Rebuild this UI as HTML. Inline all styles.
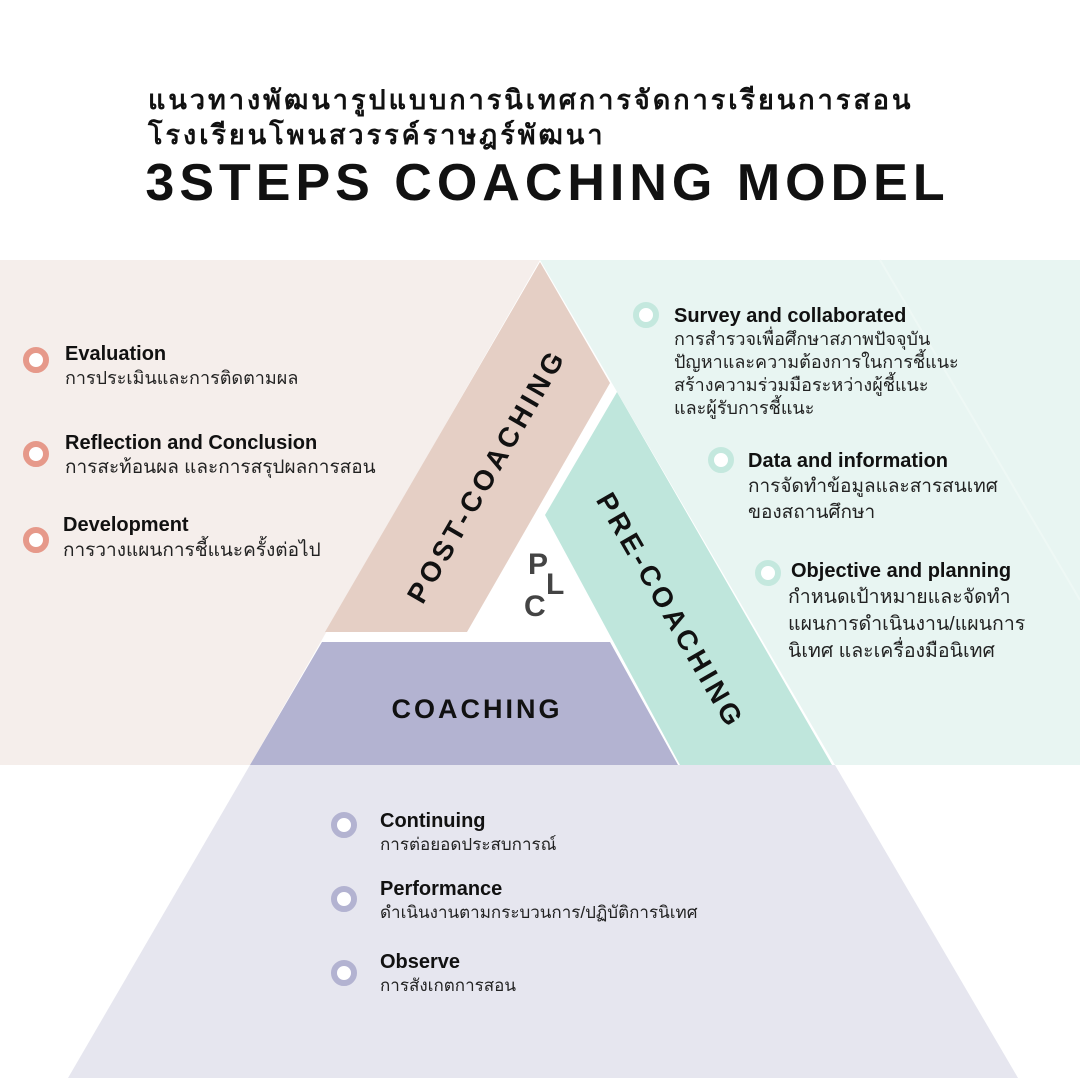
<!DOCTYPE html>
<html><head><meta charset="utf-8"><style>
body{margin:0;width:1080px;height:1080px;position:relative;background:#fff;overflow:hidden;font-family:"Liberation Sans",sans-serif;color:#111}
.a{position:absolute;white-space:nowrap}
.t{font-weight:bold;font-size:20px;line-height:24px}
.s{font-size:18px;line-height:23px;color:#222}
.r{position:absolute;width:14px;height:14px;border-radius:50%;border:6px solid}
.rp{border-color:#e6998a;background:#fff}
.rg{border-color:#c4e8de;background:#fff}
.rl{border-color:#b3b3d1;background:#fff}
.band{font-weight:bold;font-size:28px;letter-spacing:4px;color:#111;transform-origin:center}
</style></head><body>
<svg width="1080" height="1080" style="position:absolute;left:0;top:0">
<rect x="0" y="260" width="540" height="505" fill="#f5eeeb"/>
<rect x="540" y="260" width="540" height="505" fill="#e8f5f2"/>
<line x1="880" y1="260" x2="1080" y2="600" stroke="#eef8f5" stroke-width="2"/>
<polygon points="540,260 250,765 835,765" fill="#fff"/>
<polygon points="250,765 835,765 1018,1078 68,1078" fill="#e6e6ef"/>
<polygon points="540,262 610,383 467,632 325,632" fill="#e5cfc5"/>
<polygon points="617,392 832,765 680,765 545,515" fill="#bfe6dc"/>
<polygon points="322,642 610,642 678,765 250,765" fill="#b3b3d1"/>
</svg>
<div class="a" style="left:148px;top:78px;font-size:27px;font-weight:bold;letter-spacing:3px">แนวทางพัฒนารูปแบบการนิเทศการจัดการเรียนการสอน</div>
<div class="a" style="left:148px;top:113px;font-size:27px;font-weight:bold;letter-spacing:3px">โรงเรียนโพนสวรรค์ราษฎร์พัฒนา</div>
<div class="a" style="left:145px;top:153px;width:805px;text-align:center;font-size:52px;font-weight:bold;letter-spacing:5px">3STEPS COACHING MODEL</div>

<div class="r rp" style="left:23px;top:347px"></div>
<div class="a t" style="left:65px;top:342px">Evaluation</div>
<div class="a s" style="left:65px;top:367px">การประเมินและการติดตามผล</div>
<div class="r rp" style="left:23px;top:441px"></div>
<div class="a t" style="left:65px;top:431px">Reflection and Conclusion</div>
<div class="a s" style="left:65px;top:456px;font-size:19px">การสะท้อนผล และการสรุปผลการสอน</div>
<div class="r rp" style="left:23px;top:527px"></div>
<div class="a t" style="left:63px;top:513px">Development</div>
<div class="a s" style="left:63px;top:539px;font-size:19px">การวางแผนการชี้แนะครั้งต่อไป</div>

<div class="r rg" style="left:633px;top:302px"></div>
<div class="a t" style="left:674px;top:304px">Survey and collaborated</div>
<div class="a s" style="left:674px;top:328px;line-height:23px">การสำรวจเพื่อศึกษาสภาพปัจจุบัน<br>ปัญหาและความต้องการในการชี้แนะ<br>สร้างความร่วมมือระหว่างผู้ชี้แนะ<br>และผู้รับการชี้แนะ</div>
<div class="r rg" style="left:708px;top:447px"></div>
<div class="a t" style="left:748px;top:449px">Data and information</div>
<div class="a s" style="left:748px;top:474px;line-height:26px;font-size:19px">การจัดทำข้อมูลและสารสนเทศ<br>ของสถานศึกษา</div>
<div class="r rg" style="left:755px;top:560px"></div>
<div class="a t" style="left:791px;top:559px">Objective and planning</div>
<div class="a s" style="left:788px;top:584px;line-height:27px;font-size:19.5px">กำหนดเป้าหมายและจัดทำ<br>แผนการดำเนินงาน/แผนการ<br>นิเทศ และเครื่องมือนิเทศ</div>

<div class="r rl" style="left:331px;top:812px"></div>
<div class="a t" style="left:380px;top:809px">Continuing</div>
<div class="a s" style="left:380px;top:833px;font-size:17px">การต่อยอดประสบการณ์</div>
<div class="r rl" style="left:331px;top:886px"></div>
<div class="a t" style="left:380px;top:877px">Performance</div>
<div class="a s" style="left:380px;top:901px;font-size:17px">ดำเนินงานตามกระบวนการ/ปฏิบัติการนิเทศ</div>
<div class="r rl" style="left:331px;top:960px"></div>
<div class="a t" style="left:380px;top:950px">Observe</div>
<div class="a s" style="left:380px;top:974px;font-size:17px">การสังเกตการสอน</div>

<div class="a band" style="left:337px;top:459px;width:300px;text-align:center;line-height:34px;transform:rotate(-60deg)">POST-COACHING</div>
<div class="a band" style="left:520px;top:594px;width:300px;text-align:center;line-height:34px;transform:rotate(60deg)">PRE-COACHING</div>
<div class="a band" style="left:327px;top:692px;width:300px;text-align:center;line-height:34px;letter-spacing:3px;font-size:27px">COACHING</div>

<div class="a" style="left:528px;top:548px;font-size:30px;font-weight:bold;color:#444">P</div>
<div class="a" style="left:546px;top:568px;font-size:30px;font-weight:bold;color:#444">L</div>
<div class="a" style="left:524px;top:590px;font-size:30px;font-weight:bold;color:#444">C</div>
</body></html>
